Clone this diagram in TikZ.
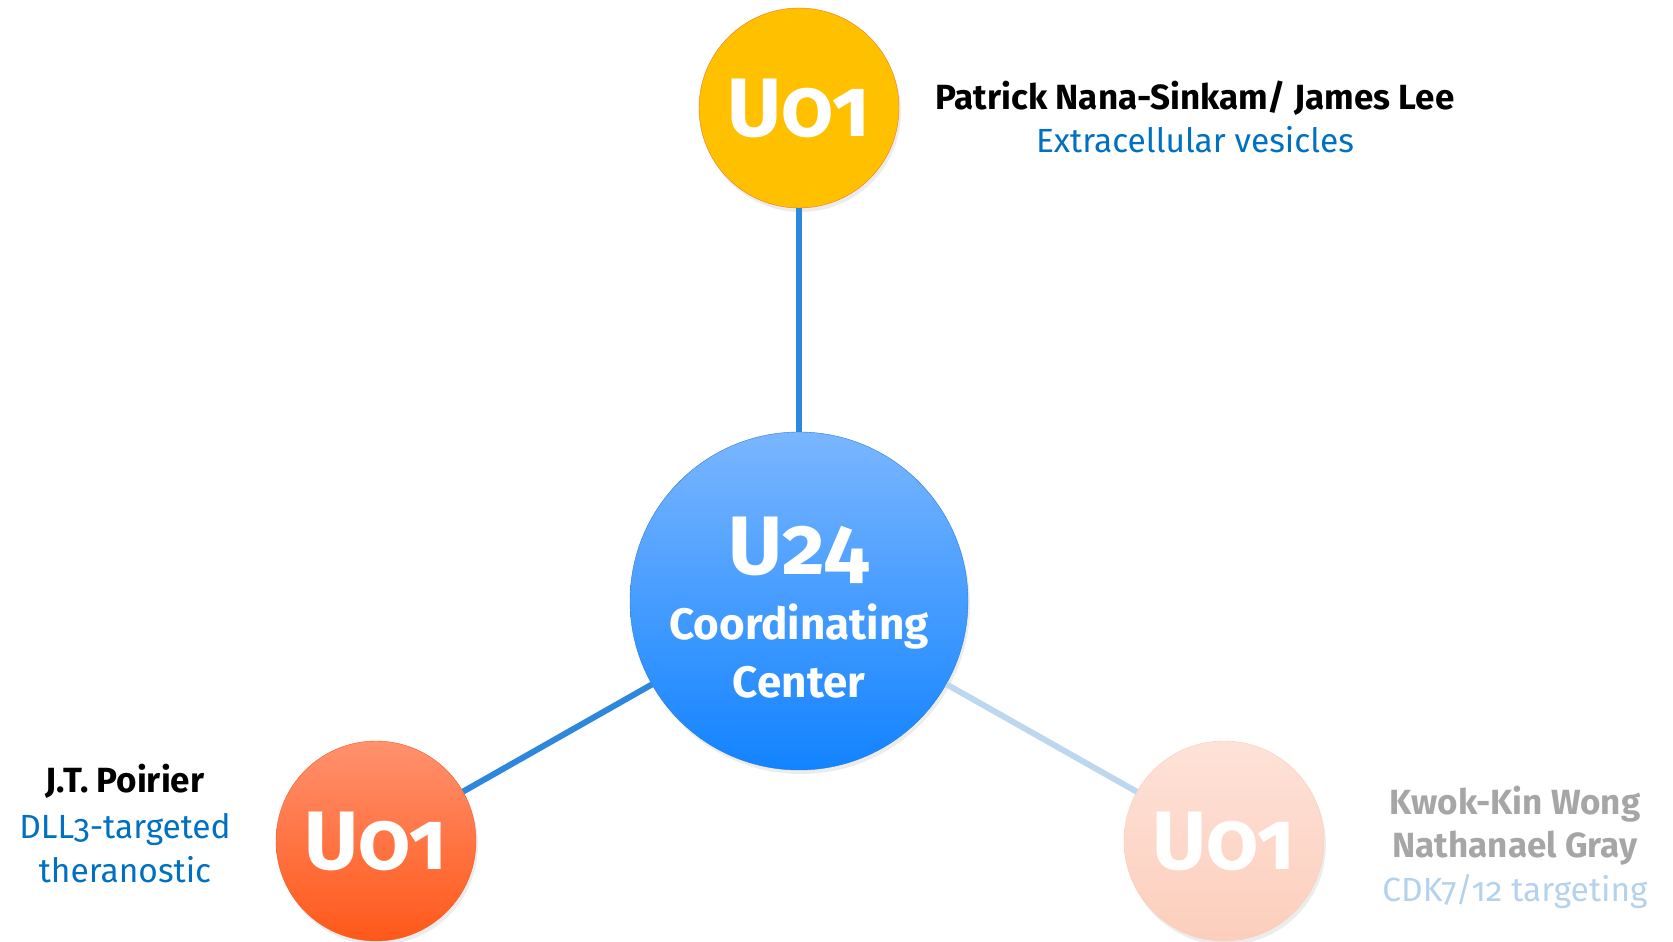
\documentclass[tikz,border=0pt]{standalone}
\usepackage{fontspec}
\setmainfont{Fira Sans}[Numbers=OldStyle]
\usetikzlibrary{shadows}

\definecolor{hubtop}{RGB}{122,182,255}
\definecolor{hubbot}{RGB}{18,131,255}
\definecolor{hubline}{RGB}{40,125,215}
\definecolor{gold}{RGB}{255,192,0}
\definecolor{goldline}{RGB}{240,120,40}
\definecolor{redtop}{RGB}{255,145,110}
\definecolor{redbot}{RGB}{255,88,25}
\definecolor{redline}{RGB}{240,95,35}
\definecolor{paletop}{RGB}{254,226,216}
\definecolor{palebot}{RGB}{252,206,188}
\definecolor{paleline}{RGB}{250,205,185}
\definecolor{linkblue}{RGB}{45,135,220}
\definecolor{linkpale}{RGB}{189,215,238}
\definecolor{topicblue}{RGB}{0,112,192}
\definecolor{namegray}{RGB}{166,166,166}
\definecolor{topicpale}{RGB}{180,210,236}

\tikzset{
  grant/.style={circle, minimum size=200pt, inner sep=0pt, text=white,
    font=\fontsize{83}{90}\selectfont\bfseries,
    drop shadow={opacity=0.15, shadow xshift=2pt, shadow yshift=-4pt}},
  hub/.style={circle, minimum size=338pt, inner sep=0pt, text=white,
    draw=hubline, top color=hubtop, bottom color=hubbot, align=center,
    font=\fontsize{44}{58}\selectfont\bfseries,
    drop shadow={opacity=0.15, shadow xshift=2pt, shadow yshift=-4pt}},
  link/.style={line width=6pt, linkblue},
  pi/.style={font=\fontsize{35}{44}\selectfont\bfseries, anchor=base},
  topic/.style={font=\fontsize{33.5}{44}\selectfont, anchor=base, topicblue}
}

\begin{document}
\begin{tikzpicture}[x=1pt,y=1pt]
\useasboundingbox (0,0) rectangle (1673,942);

\node[hub] (u24) at (799,341) {{\fontsize{83}{90}\selectfont\rule{0pt}{70pt}U24}\\[7pt]
  Coordinating\\Center};
\node[grant, draw=goldline, fill=gold] (u01top) at (799,834) {U01};
\node[grant, draw=redline, top color=redtop, bottom color=redbot] (u01left) at (376,101) {U01};
\node[grant, draw=paleline, top color=paletop, bottom color=palebot] (u01right) at (1224,101) {U01};

\draw[link] (u24) -- (u01top);
\draw[link] (u24) -- (u01left);
\draw[link, linkpale] (u24) -- (u01right);

\node[pi] (topname) at (1195,832) {Patrick Nana-Sinkam/ James Lee};
\node[topic] (toptopic) at (1195,789) {Extracellular vesicles};

\node[pi] (leftname) at (125,149) {J.T. Poirier};
\node[topic] (lefttopic1) at (125,103) {DLL3-targeted};
\node[topic] (lefttopic2) at (125,59) {theranostic};

\node[pi, namegray] (rightname1) at (1515,127) {Kwok-Kin Wong};
\node[pi, namegray] (rightname2) at (1515,84) {Nathanael Gray};
\node[topic, topicpale] (righttopic) at (1515,40) {CDK7/12 targeting};
\end{tikzpicture}
\end{document}
